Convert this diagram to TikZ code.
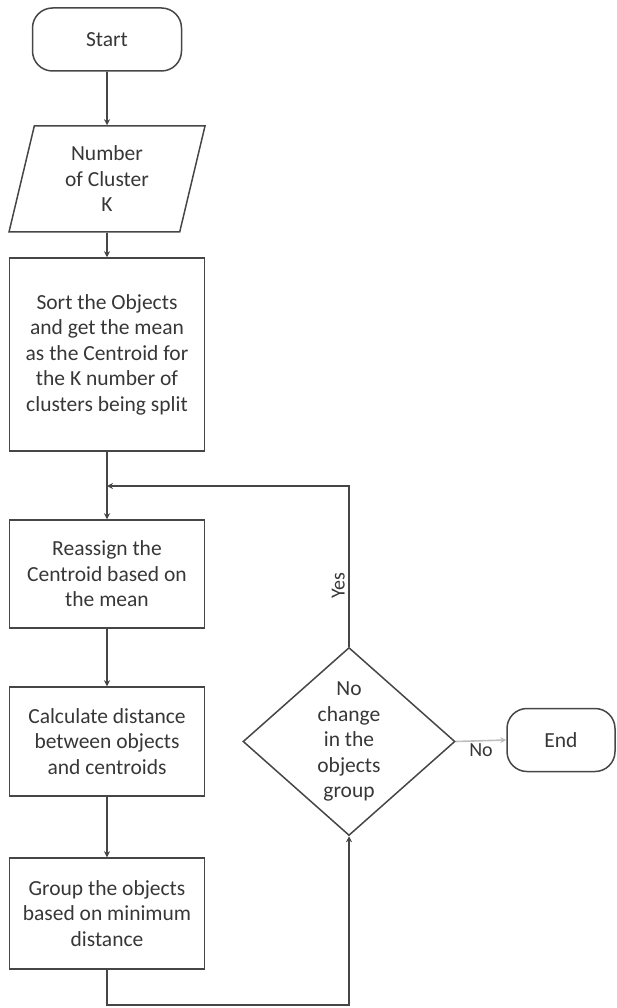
\documentclass[tikz,border=0pt]{standalone}
\usepackage{fontspec}
\setmainfont{Carlito}
\usepackage{xcolor}
\usepackage{tikz}
\usetikzlibrary{shapes.geometric, arrows.meta, positioning, calc}
\definecolor{linegray}{RGB}{70,70,70}
\definecolor{textgray}{RGB}{55,55,55}
\definecolor{paleline}{RGB}{190,190,190}

\begin{document}
\begin{tikzpicture}[
    x=1pt, y=-1pt,
    every node/.style={text=textgray, font=\fontsize{21.5}{25.5}\selectfont},
    terminal/.style={draw=linegray, line width=1.5pt, rounded corners=20pt, minimum height=63pt, inner sep=0pt, align=center},
    process/.style={draw=linegray, line width=1.5pt, minimum width=195pt, inner sep=0pt, align=center},
    inputbox/.style={draw=linegray, line width=1.5pt, trapezium, trapezium left angle=69, trapezium right angle=111, trapezium stretches body, minimum width=196pt, minimum height=106pt, inner sep=0pt, align=center},
    decision/.style={draw=linegray, line width=1.5pt, diamond, minimum width=212pt, minimum height=188pt, inner sep=0pt, align=center},
    flow/.style={draw=linegray, line width=1.6pt, -{Stealth[length=6pt, width=6pt]}},
    lbl/.style={font=\fontsize{20}{24}\selectfont}
]
    % page
    \useasboundingbox (0,0) rectangle (616,1008);

    % main column
    \node[terminal, minimum width=149pt] (start) at (107,39.5) {Start};
    \node[inputbox] (num) at (107,179) {Number\\of Cluster\\K};
    \node[process, minimum height=193pt] (sort) at (107,354.5) {Sort the Objects\\and get the mean\\as the Centroid for\\the K number of\\clusters being split};
    \coordinate (jn) at (107,486);
    \node[process, minimum height=108pt] (reassign) at (107,574) {Reassign the\\Centroid based on\\the mean};
    \node[process, minimum height=109pt] (calc) at (107,741.5) {Calculate distance\\between objects\\and centroids};
    \node[process, minimum height=111pt] (group) at (107,913.5) {Group the objects\\based on minimum\\distance};
    \coordinate (bottom) at (107,1005);

    % decision and end
    \node[decision] (check) at (349,741.5) {No\\change\\in the\\objects\\group};
    \node[terminal, minimum width=108pt] (end) at (561,740) {End};

    % Connections
    \draw[flow] (start) -- (num);
    \draw[flow] (num) -- (sort);
    \draw[flow] (sort) -- (reassign);
    \draw[flow] (reassign) -- (calc);
    \draw[flow] (calc) -- (group);
    \draw[flow] (group.south) -- (bottom) -| (check.south);
    \draw[flow] (check.north) -- node[lbl, sloped, above, pos=0.38] {Yes} (check.north |- jn) -- (jn);
    \draw[flow, draw=paleline] (check.east) -- node[lbl, below, yshift=1pt] {No} (end.west);
\end{tikzpicture}
\end{document}
